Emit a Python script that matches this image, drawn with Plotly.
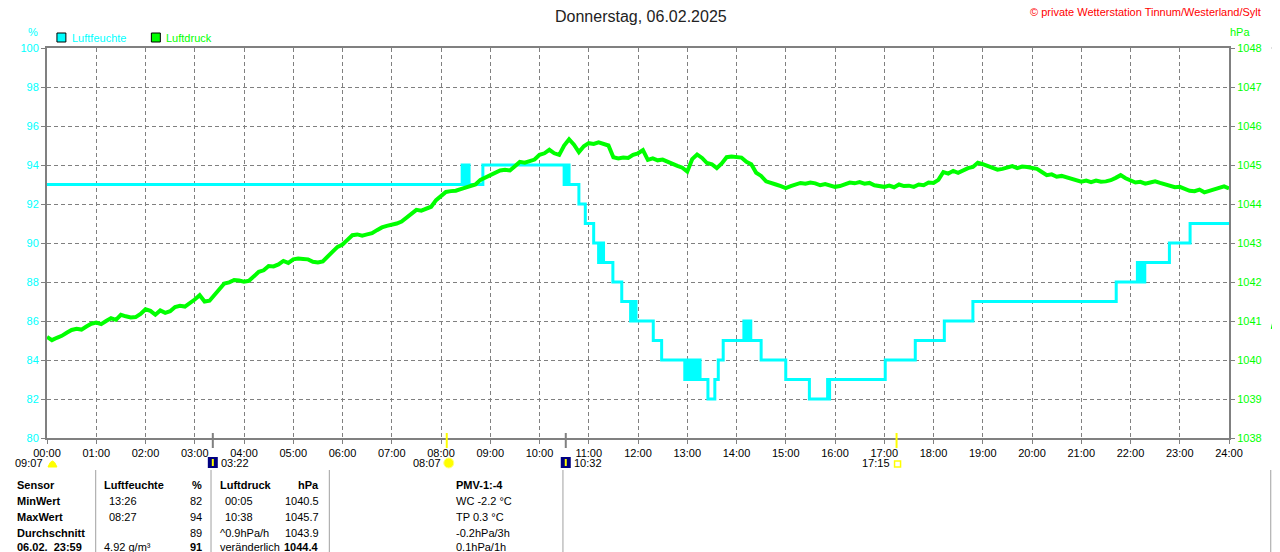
import plotly.graph_objects as go

FONT = "Liberation Sans, Arial, sans-serif"
CYAN = "#00FFFF"
GREEN = "#00FF00"
GRAY = "#808080"

# Luftfeuchte (%) as step values: time in hours -> value from that time on
hum_time = [0.0, 8.43, 8.46, 8.48, 8.52, 8.54, 8.57, 8.85,
            10.50, 10.52, 10.55, 10.57, 10.60, 10.80, 10.93,
            11.10, 11.20, 11.22, 11.25, 11.27, 11.30, 11.49, 11.67,
            11.85, 11.87, 11.90, 11.93, 11.96, 12.31, 12.48,
            12.95, 12.97, 13.00, 13.03, 13.06, 13.09, 13.12, 13.15, 13.20, 13.23, 13.26,
            13.42, 13.56, 13.63, 13.73, 14.15, 14.18, 14.20, 14.24, 14.26, 14.29,
            14.50, 15.00, 15.48, 15.85, 15.87, 15.89, 17.02, 17.63, 18.22, 18.80,
            21.71, 22.14, 22.16, 22.19, 22.21, 22.24, 22.26, 22.29, 22.79, 23.21, 24.0]
hum_val = [93, 94, 93, 94, 93, 94, 93, 94,
           93, 94, 93, 94, 93, 92, 91,
           90, 89, 90, 89, 90, 89, 88, 87,
           86, 87, 86, 87, 86, 85, 84,
           83, 84, 83, 84, 83, 84, 83, 84, 83, 84, 83,
           82, 83, 84, 85, 86, 85, 86, 85, 86, 85,
           84, 83, 82, 83, 82, 83, 84, 85, 86, 87,
           88, 89, 88, 89, 88, 89, 88, 89, 90, 91, 91]

# Luftdruck (hPa), one reading every 6 minutes from 00:00 to 24:00
press_val = [
    1040.59, 1040.51, 1040.57, 1040.62, 1040.70, 1040.77, 1040.80, 1040.78, 1040.86, 1040.93,
    1040.96, 1040.92, 1041.00, 1041.07, 1041.03, 1041.16, 1041.12, 1041.09, 1041.10, 1041.18,
    1041.30, 1041.26, 1041.16, 1041.27, 1041.21, 1041.25, 1041.36, 1041.39, 1041.37, 1041.45,
    1041.55, 1041.66, 1041.50, 1041.52, 1041.66, 1041.80, 1041.96, 1041.99, 1042.05, 1042.04,
    1042.01, 1042.03, 1042.16, 1042.26, 1042.30, 1042.41, 1042.40, 1042.45, 1042.54, 1042.49,
    1042.58, 1042.60, 1042.59, 1042.58, 1042.52, 1042.50, 1042.53, 1042.64, 1042.78, 1042.90,
    1042.96, 1043.08, 1043.20, 1043.22, 1043.19, 1043.22, 1043.25, 1043.33, 1043.40, 1043.44,
    1043.46, 1043.50, 1043.55, 1043.66, 1043.76, 1043.85, 1043.83, 1043.87, 1043.93, 1044.10,
    1044.20, 1044.31, 1044.33, 1044.34, 1044.38, 1044.42, 1044.46, 1044.50, 1044.62, 1044.68,
    1044.74, 1044.80, 1044.86, 1044.88, 1044.86, 1044.97, 1045.08, 1045.06, 1045.10, 1045.14,
    1045.26, 1045.30, 1045.39, 1045.30, 1045.26, 1045.50, 1045.66, 1045.52, 1045.33, 1045.48,
    1045.56, 1045.54, 1045.58, 1045.55, 1045.50, 1045.20, 1045.17, 1045.19, 1045.18, 1045.26,
    1045.30, 1045.38, 1045.13, 1045.17, 1045.12, 1045.14, 1045.08, 1045.04, 1044.98, 1044.93,
    1044.83, 1045.15, 1045.27, 1045.18, 1045.05, 1045.02, 1044.92, 1045.04, 1045.20, 1045.22,
    1045.21, 1045.19, 1045.08, 1045.02, 1044.80, 1044.72, 1044.58, 1044.55, 1044.50, 1044.46,
    1044.41, 1044.46, 1044.50, 1044.54, 1044.52, 1044.55, 1044.53, 1044.48, 1044.51, 1044.47,
    1044.44, 1044.46, 1044.50, 1044.55, 1044.53, 1044.56, 1044.52, 1044.54, 1044.48, 1044.46,
    1044.44, 1044.47, 1044.43, 1044.50, 1044.46, 1044.47, 1044.44, 1044.50, 1044.48, 1044.55,
    1044.54, 1044.62, 1044.82, 1044.78, 1044.85, 1044.80, 1044.87, 1044.92, 1044.95, 1045.06,
    1045.02, 1044.98, 1044.92, 1044.88, 1044.90, 1044.94, 1044.97, 1044.92, 1044.96, 1044.95,
    1044.93, 1044.90, 1044.82, 1044.74, 1044.76, 1044.70, 1044.72, 1044.68, 1044.64, 1044.60,
    1044.57, 1044.60, 1044.56, 1044.60, 1044.57, 1044.58, 1044.61, 1044.67, 1044.74, 1044.66,
    1044.60, 1044.55, 1044.57, 1044.52, 1044.55, 1044.58, 1044.54, 1044.50, 1044.46, 1044.43,
    1044.44, 1044.38, 1044.34, 1044.33, 1044.37, 1044.30, 1044.34, 1044.36, 1044.40, 1044.45,
    1044.40,
]
press_time = [i * 0.1 for i in range(len(press_val))]

hour_ticks = list(range(25))
hour_labels = [f"{h:02d}:00" for h in hour_ticks]

# sun / moon events below the time axis
event_hours = [3 + 22 / 60, 8 + 7 / 60, 10 + 32 / 60, 17 + 15 / 60]
event_labels = ["03:22", "08:07", "10:32", "17:15"]
event_kind = ["moon", "sun", "moon", "sunset"]
day_length = "09:07"

table_rows = [
    ["Sensor", "Luftfeuchte", "%", "Luftdruck", "hPa", "PMV-1:-4"],
    ["MinWert", "13:26", "82", "00:05", "1040.5", "WC -2.2 °C"],
    ["MaxWert", "08:27", "94", "10:38", "1045.7", "TP 0.3 °C"],
    ["Durchschnitt", "", "89", "^0.9hPa/h", "1043.9", "-0.2hPa/3h"],
    ["06.02.  23:59", "4.92 g/m³", "91", "veränderlich", "1044.4", "0.1hPa/1h"],
]


# screen pixel -> paper helpers (plot area on screen is 40..1229 x 48..438)
def px(x):
    return (x - 40) / 1189


def py(y):
    return (438 - y) / 390


fig = go.Figure()
fig.add_trace(go.Scatter(x=hum_time, y=hum_val, mode="lines", line=dict(color=CYAN, width=3, shape="hv"),
                         name="Luftfeuchte", hoverinfo="skip"))
fig.add_trace(go.Scatter(x=press_time, y=press_val, mode="lines", line=dict(color=GREEN, width=4),
                         name="Luftdruck", yaxis="y2", hoverinfo="skip"))

shapes = []
annotations = []

# legend boxes
for x0, col, label in [(50, CYAN, "Luftfeuchte"), (145, GREEN, "Luftdruck")]:
    shapes.append(dict(type="rect", xref="paper", yref="paper", x0=px(x0), x1=px(x0 + 9),
                       y0=py(42), y1=py(33), fillcolor=col, line=dict(color="black", width=1)))
    annotations.append(dict(text=label, xref="paper", yref="paper", x=px(x0 + 13), y=py(38),
                            xanchor="left", yanchor="middle", showarrow=False,
                            font=dict(color=col, size=11, family=FONT)))

annotations += [
    dict(text="Donnerstag, 06.02.2025", xref="paper", yref="paper", x=px(638), y=py(16),
         xanchor="center", yanchor="middle", showarrow=False, font=dict(size=16, color="#222", family=FONT)),
    dict(text="© private Wetterstation Tinnum/Westerland/Sylt", xref="paper", yref="paper", x=px(1263), y=py(12),
         xanchor="right", yanchor="middle", showarrow=False, font=dict(size=11, color="red", family=FONT)),
    dict(text="%", xref="paper", yref="paper", x=px(26), y=py(32), xanchor="center", yanchor="middle",
         showarrow=False, font=dict(size=11, color=CYAN, family=FONT)),
    dict(text="hPa", xref="paper", yref="paper", x=px(1240), y=py(32), xanchor="center", yanchor="middle",
         showarrow=False, font=dict(size=11, color=GREEN, family=FONT)),
    dict(text=day_length, xref="paper", yref="paper", x=px(38), y=py(463), xanchor="right", yanchor="middle",
         showarrow=False, font=dict(size=11, color="black", family=FONT)),
]

# day length half sun
shapes.append(dict(type="path", xref="paper", yref="paper",
                   path=f"M {px(41)},{py(467)} Q {px(45.5)},{py(455)} {px(50)},{py(467)} Z",
                   fillcolor="#FFFF00", line=dict(color="#FFFF00", width=1)))

# events: marker line on the axis, icon and time label
for h, lab, kind in zip(event_hours, event_labels, event_kind):
    col = GRAY if kind == "moon" else "#FFFF00"
    shapes.append(dict(type="line", xref="x", yref="paper", x0=h, x1=h, y0=py(433), y1=py(448),
                       line=dict(color=col, width=2)))
    if kind == "moon":
        shapes.append(dict(type="rect", xref="x", yref="paper", xsizemode="pixel", xanchor=h, x0=-5, x1=5,
                           y0=py(468), y1=py(457), fillcolor="#000080", line=dict(width=0)))
        shapes.append(dict(type="rect", xref="x", yref="paper", xsizemode="pixel", xanchor=h, x0=-1, x1=1,
                           y0=py(466), y1=py(459), fillcolor="#FFFF00", line=dict(width=0)))
        annotations.append(dict(text=lab, xref="x", yref="paper", x=h, xshift=6, y=py(463), xanchor="left",
                                yanchor="middle", showarrow=False, font=dict(size=11, color="black", family=FONT)))
    elif kind == "sun":
        shapes.append(dict(type="circle", xref="x", yref="paper", xsizemode="pixel", xanchor=h, x0=-3, x1=7,
                           y0=py(468), y1=py(458), fillcolor="#FFFF00", line=dict(color="#FFFF80", width=1)))
        annotations.append(dict(text=lab, xref="x", yref="paper", x=h, xshift=-4, y=py(463), xanchor="right",
                                yanchor="middle", showarrow=False, font=dict(size=11, color="black", family=FONT)))
    else:
        shapes.append(dict(type="rect", xref="x", yref="paper", xsizemode="pixel", xanchor=h, x0=-2, x1=4,
                           y0=py(467), y1=py(461), line=dict(color="#FFFF00", width=1.5)))
        annotations.append(dict(text=lab, xref="x", yref="paper", x=h, xshift=-5, y=py(463), xanchor="right",
                                yanchor="middle", showarrow=False, font=dict(size=11, color="black", family=FONT)))

# table below the chart
col_x = [8, 95, 198, 212, 316, 449]
col_anchor = ["left", "left", "right", "left", "right", "left"]
row_y = [485, 501, 517, 533, 547]
for r, row in enumerate(table_rows):
    for c, cell in enumerate(row):
        if not cell:
            continue
        bold = r == 0 or c == 0 or (r == 4 and c in (2, 4))
        x = col_x[c]
        if r in (1, 2) and c in (1, 3):
            x += 5
        annotations.append(dict(text=f"<b>{cell}</b>" if bold else cell, xref="paper", yref="paper",
                                x=px(x), y=py(row_y[r]), xanchor=col_anchor[c], yanchor="middle",
                                showarrow=False, font=dict(size=11, color="black", family=FONT)))
for xd in [89, 205, 324, 559, 1271]:
    shapes.append(dict(type="line", xref="paper", yref="paper", x0=px(xd), x1=px(xd), y0=py(470), y1=py(560),
                       line=dict(color="#A0A0A0", width=1)))

# edge of the neighbouring chart
shapes.append(dict(type="line", xref="paper", yref="paper", x0=px(1272), x1=px(1282), y0=py(48), y1=py(48),
                   line=dict(color=GRAY, width=2)))
shapes.append(dict(type="path", xref="paper", yref="paper",
                   path=f"M {px(1272)},{py(329)} L {px(1274)},{py(320)} L {px(1276)},{py(325)} L {px(1280)},{py(316)}",
                   line=dict(color=GREEN, width=2)))

grid = dict(showgrid=True, gridcolor=GRAY, gridwidth=1, griddash="4px,3px")
# the page puts the figure at an 8px offset, so the figure is 8px smaller and margins shifted
fig.update_layout(
    width=1272, height=544,
    margin=dict(l=32, r=51, t=40, b=114),
    paper_bgcolor="white", plot_bgcolor="white",
    showlegend=False,
    font=dict(family=FONT),
    xaxis=dict(range=[0, 24], tickvals=hour_ticks, ticktext=hour_labels, showline=True, linecolor=GRAY,
               linewidth=2, mirror=True, ticks="outside", ticklen=4, tickcolor=GRAY, zeroline=False,
               tickfont=dict(size=11, color="black"), **grid),
    yaxis=dict(range=[80, 100], dtick=2, showline=True, linecolor=GRAY, linewidth=2, ticks="outside",
               ticklen=4, tickcolor=GRAY, zeroline=False, tickfont=dict(size=11, color=CYAN), **grid),
    yaxis2=dict(range=[1038, 1048], dtick=1, overlaying="y", side="right", showgrid=False, showline=True,
                linecolor=GRAY, linewidth=2, ticks="outside", ticklen=4, tickcolor=GRAY, zeroline=False,
                tickfont=dict(size=11, color=GREEN)),
    shapes=shapes,
    annotations=annotations,
)

fig.write_html("out.html")
